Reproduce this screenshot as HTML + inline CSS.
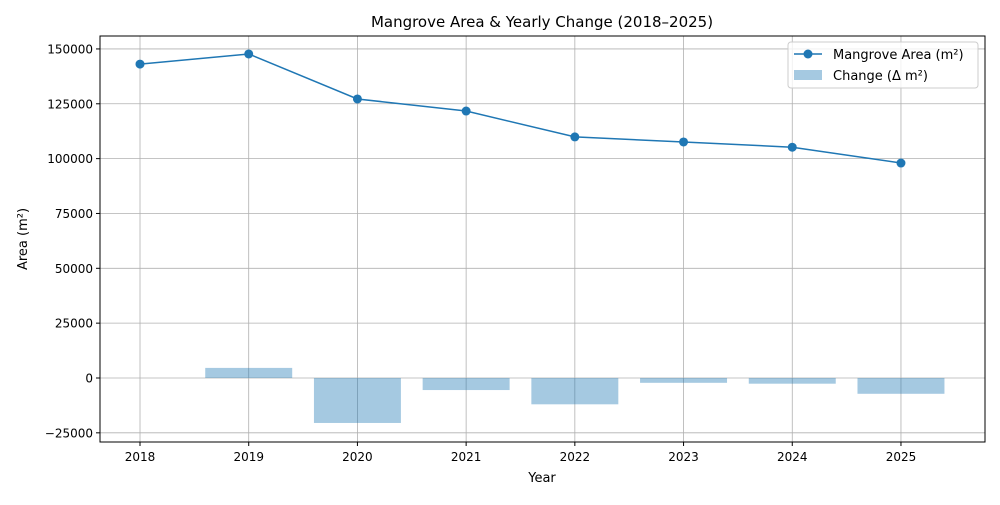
<!DOCTYPE html>
<html><head><meta charset="utf-8"><style>
body{margin:0;background:#fff;font-family:"Liberation Sans","DejaVu Sans",sans-serif;}
svg text{font-family:"DejaVu Sans","Liberation Sans",sans-serif;}
</style></head><body>
<svg id="chart" width="1000" height="500" xmlns="http://www.w3.org/2000/svg">
<rect width="1000" height="500" fill="#fff"/>
<g id="grid"></g><g id="bars"></g><g id="line"></g><g id="axes"></g>
<text x="542" y="27" font-size="15" text-anchor="middle">Mangrove Area &amp; Yearly Change (2018–2025)</text>
<text x="542" y="482" font-size="13" text-anchor="middle">Year</text>
<text x="27" y="239" font-size="13" text-anchor="middle" transform="rotate(-90 27 239)">Area (m²)</text>
<g>
<rect x="788" y="42" width="190" height="46" fill="#fff" fill-opacity="0.8" stroke="#ccc" rx="3"/>
<line x1="794" y1="54" x2="822" y2="54" stroke="#1f77b4" stroke-width="1.5"/>
<circle cx="808" cy="54" r="4.5" fill="#1f77b4"/>
<text x="833" y="59" font-size="13">Mangrove Area (m²)</text>
<rect x="794" y="70" width="28" height="10" fill="#1f77b4" fill-opacity="0.4"/>
<text x="833" y="80" font-size="13">Change (Δ m²)</text>
</g>
</svg>
<script>
const years=[2018,2019,2020,2021,2022,2023,2024,2025];
const area=[143100,147700,127200,121700,109900,107600,105200,98000];
const change=[0,4600,-20500,-5500,-12000,-2200,-2600,-7200];
const yTicks=[-25000,0,25000,50000,75000,100000,125000,150000];
const L=100,R=985,T=36,B=442;
const xMin=2017.632,xMax=2025.773,yMin=-29180,yMax=155900;
const X=v=>L+(v-xMin)/(xMax-xMin)*(R-L);
const Y=v=>B-(v-yMin)/(yMax-yMin)*(B-T);
const NS="http://www.w3.org/2000/svg";
function mk(p,t,a){const e=document.createElementNS(NS,t);for(const k in a)e.setAttribute(k,a[k]);p.appendChild(e);return e;}
const grid=document.getElementById('grid'),axes=document.getElementById('axes'),bars=document.getElementById('bars'),line=document.getElementById('line');
years.forEach(y=>{const x=X(y);
const g=mk(grid,'line',{x1:x,x2:x,y1:T,y2:B,stroke:'#b0b0b0','stroke-width':0.8});


mk(axes,'line',{x1:x,x2:x,y1:B,y2:B+4,stroke:'#000'});
const t=mk(axes,'text',{x:x,y:B+19,'font-size':12,'text-anchor':'middle'});t.textContent=y;

});
yTicks.forEach(v=>{const y=Y(v);
const g=mk(grid,'line',{x1:L,x2:R,y1:y,y2:y,stroke:'#b0b0b0','stroke-width':0.8});


mk(axes,'line',{x1:L-4,x2:L,y1:y,y2:y,stroke:'#000'});
const t=mk(axes,'text',{x:L-7,y:y+4.5,'font-size':12,'text-anchor':'end'});t.textContent=v<0?'−'+(-v):v;

});
const bw=(X(1)-X(0))*0.8;
years.forEach((yr,i)=>{const v=change[i];const y0=Y(0),y1=Y(v);
const r=mk(bars,'rect',{x:X(yr)-bw/2,y:Math.min(y0,y1),width:bw,height:Math.abs(y1-y0),fill:'#1f77b4','fill-opacity':0.4});

});
const pl=mk(line,'polyline',{points:years.map((y,i)=>X(y)+','+Y(area[i])).join(' '),fill:'none',stroke:'#1f77b4','stroke-width':1.5});


years.forEach((y,i)=>{const c=mk(line,'circle',{cx:X(y),cy:Y(area[i]),r:4.5,fill:'#1f77b4'});

});
const f=mk(axes,'rect',{x:L,y:T,width:R-L,height:B-T,fill:'none',stroke:'#000','stroke-width':1});


</script>
</body></html>
